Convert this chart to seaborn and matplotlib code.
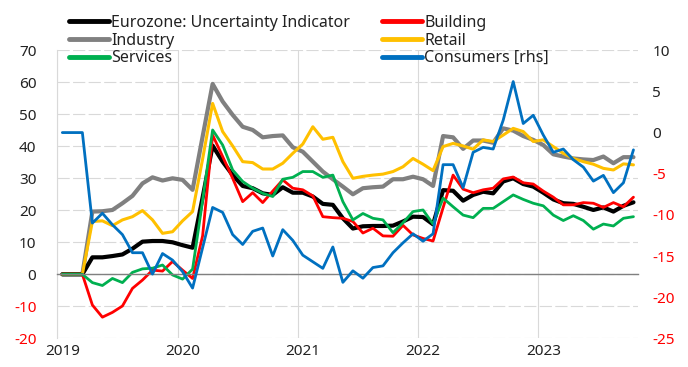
import matplotlib
matplotlib.use("Agg")
import matplotlib.pyplot as plt
from matplotlib.lines import Line2D
import seaborn as sns
import pandas as pd
import numpy as np

# ---------------- data (monthly, Jan 2019 .. Oct 2023) ----------------
months = pd.date_range("2019-01-01", "2023-10-01", freq="MS")
year_labels = ["2019", "2020", "2021", "2022", "2023"]

uncertainty = [0, 0, 0, 5.3, 5.3, 5.7, 6.2, 8.0, 10.2, 10.4, 10.4, 10.0, 9.1, 8.3,
               24.0, 40.2, 35.2, 31.0, 27.6, 26.9, 25.3, 24.8, 27.2, 25.5, 25.5, 24.3,
               22.0, 21.7, 17.5, 14.3, 15.0, 15.1, 15.1, 15.2, 16.5, 18.0, 17.9, 15.6,
               26.3, 26.1, 23.0, 24.8, 25.8, 25.3, 29.0, 30.0, 28.2, 27.4, 25.5, 23.4,
               22.2, 22.0, 21.1, 20.1, 20.9, 19.6, 21.4, 22.5]
building = [0, 0, 0, -9.6, -13.4, -11.9, -9.9, -4.4, -1.8, 1.3, 1.0, 4.0, 1.3, -1.3,
            12.0, 43.5, 36.8, 30.0, 22.7, 25.5, 22.4, 26.0, 29.5, 26.9, 26.4, 24.5,
            18.0, 17.7, 17.5, 16.5, 12.9, 14.4, 12.0, 11.9, 15.3, 12.3, 11.2, 10.4,
            20.8, 31.0, 26.6, 25.5, 26.4, 26.9, 29.8, 30.4, 28.6, 28.2, 26.0, 24.1,
            21.7, 21.7, 22.4, 22.2, 20.9, 22.4, 21.1, 24.1]
industry = [0, 0, 0, 19.6, 19.7, 20.1, 22.2, 24.5, 28.4, 30.3, 29.3, 30.0, 29.5, 26.4,
            43.0, 59.5, 54.0, 49.8, 46.1, 45.1, 42.8, 43.2, 43.4, 39.7, 38.3, 35.2,
            32.1, 29.7, 27.4, 25.0, 26.9, 27.2, 27.4, 29.7, 29.7, 30.5, 29.7, 27.6,
            43.2, 42.8, 39.2, 41.8, 41.8, 41.1, 45.6, 44.9, 43.2, 42.0, 40.4, 37.5,
            36.8, 36.2, 35.9, 35.7, 36.8, 34.7, 36.6, 36.6]
retail = [0, 0, 0, 16.5, 16.7, 15.2, 17.0, 18.0, 19.9, 17.0, 12.8, 13.3, 16.7, 19.6,
          36.0, 53.4, 44.6, 40.1, 35.2, 34.9, 32.9, 32.9, 34.7, 37.8, 40.7, 46.1,
          42.2, 42.8, 35.2, 30.0, 30.6, 31.0, 31.3, 32.1, 33.6, 36.2, 34.4, 32.4,
          39.9, 40.9, 40.1, 39.1, 42.0, 41.5, 43.5, 45.6, 44.6, 41.5, 42.0, 39.9,
          37.8, 36.2, 35.2, 34.4, 33.1, 32.6, 34.5, 34.2]
services = [0, 0, 0, -2.6, -3.5, -1.3, -2.6, 0.6, 1.7, 1.9, 2.9, -0.2, -1.5, 1.6,
            23.0, 45.1, 40.4, 32.6, 29.0, 26.9, 25.3, 24.3, 29.7, 30.3, 32.1, 32.1,
            30.3, 31.0, 22.7, 17.0, 19.0, 17.5, 17.0, 13.0, 16.1, 19.6, 20.1, 15.7,
            23.8, 21.1, 18.5, 17.7, 20.6, 20.6, 22.7, 24.8, 23.4, 22.2, 21.4, 18.5,
            16.8, 18.3, 16.8, 14.1, 15.7, 15.1, 17.5, 18.0]
consumers = [0, 0, 0, -11.0, -9.8, -11.2, -12.4, -14.6, -14.6, -17.2, -14.7, -15.5, -16.9, -18.9,
             -14.0, -9.1, -9.7, -12.4, -13.6, -12.0, -11.6, -15.0, -11.8, -13.1, -14.9, -15.7,
             -16.5, -13.9, -18.2, -16.8, -17.7, -16.4, -16.2, -14.6, -13.4, -12.3, -13.2, -12.3,
             -3.9, -3.9, -6.7, -2.4, -1.8, -2.0, 1.5, 6.2, 1.1, 2.1, -0.3, -2.4,
             -2.0, -3.3, -4.2, -5.9, -5.2, -7.3, -6.1, -2.1]

left_series = [
    ("Industry", "#808080", 3.0),
    ("Eurozone: Uncertainty Indicator", "#000000", 3.0),
    ("Retail", "#FFC000", 2.2),
    ("Building", "#FF0000", 2.0),
    ("Services", "#00B050", 2.0),
]

df = pd.DataFrame({"t": np.arange(len(months)), "month": months,
                   "Eurozone: Uncertainty Indicator": uncertainty, "Building": building,
                   "Industry": industry, "Retail": retail, "Services": services,
                   "Consumers [rhs]": consumers})

# ---------------- styling ----------------
sns.set_style("white")
FONT = ["Noto Sans", "DejaVu Sans"]
plt.rcParams["font.family"] = FONT
plt.rcParams["axes.unicode_minus"] = False
TXT = "#222222"
RED = "#FF0000"
GRID = "#D9D9D9"

fig = plt.figure(figsize=(6.88, 3.67), dpi=100)
ax = fig.add_axes([0.0833, 0.0782, 0.928 - 0.0833, 0.863 - 0.0782])
ax2 = ax.twinx()

for name, col, lw in left_series:
    sns.lineplot(data=df, x="t", y=name, ax=ax, color=col, lw=lw, legend=False)
sns.lineplot(data=df, x="t", y="Consumers [rhs]", ax=ax2, color="#0070C0", lw=2.0, legend=False)

n = len(months)
ax.set_xlim(-0.5, n - 0.5)
ax2.set_xlim(-0.5, n - 0.5)
ax.set_ylim(-20, 70)
ax2.set_ylim(-25, 10)
ax.set_xlabel("")
ax.set_ylabel("")
ax2.set_ylabel("")

# year boundaries (major ticks / vertical grid)
year_starts = [i for i, m in enumerate(months) if m.month == 1]
bounds = [i - 0.5 for i in year_starts]
ax.set_xticks(bounds)
ax.set_xticklabels([""] * len(bounds))
ax.tick_params(axis="x", length=4, width=0.8, color="#808080", direction="out")
ax.spines["bottom"].set_position(("data", 0))
ax.spines["bottom"].set_color("#808080")
ax.spines["bottom"].set_linewidth(1.0)
ax.spines["left"].set_color(GRID)
ax.spines["left"].set_linewidth(0.8)
ax.spines["top"].set_visible(False)
ax.spines["right"].set_visible(False)
for s in ax2.spines.values():
    s.set_visible(False)

ax.grid(axis="x", color=GRID, lw=0.8, ls="-")
ax.grid(axis="y", color=GRID, lw=0.8, ls=(0, (11, 3)))
ax.set_axisbelow(True)

TS = 11
# year labels under the plot
sec = ax.secondary_xaxis(0)
sec.set_xticks(year_starts)
sec.set_xticklabels(year_labels)
sec.tick_params(length=0, pad=4, labelsize=TS, labelcolor=TXT)
sec.spines["bottom"].set_visible(False)

# y ticks
lt = list(range(-20, 80, 10))
ax.set_yticks(lt)
ax.set_yticklabels([str(v) for v in lt])
ax.tick_params(axis="y", length=0, pad=15, labelsize=TS)
for v, lab in zip(lt, ax.get_yticklabels()):
    lab.set_color(RED if v < 0 else TXT)
rt = list(range(-25, 15, 5))
ax2.set_yticks(rt)
ax2.set_yticklabels([str(v) for v in rt])
ax2.tick_params(axis="y", length=0, pad=10, labelsize=TS)
for v, lab in zip(rt, ax2.get_yticklabels()):
    lab.set_color(RED if v < 0 else TXT)

# legend in two columns above plot
def handle(c):
    return Line2D([0], [0], color=c, lw=3.5, solid_capstyle="round")

kw = dict(frameon=False, fontsize=11.5, handlelength=2.5, handletextpad=0.15,
          labelspacing=0.1, borderpad=0, borderaxespad=0, loc="upper left",
          labelcolor=TXT)
fig.legend([handle("#000000"), handle("#808080"), handle("#00B050")],
           ["Eurozone: Uncertainty Indicator", "Industry", "Services"],
           bbox_to_anchor=(69 / 688, 1 - 15 / 367), **kw)
fig.legend([handle("#FF0000"), handle("#FFC000"), handle("#0070C0")],
           ["Building", "Retail", "Consumers [rhs]"],
           bbox_to_anchor=(382 / 688, 1 - 15 / 367), **kw)

fig.savefig("out.png", dpi=100)
